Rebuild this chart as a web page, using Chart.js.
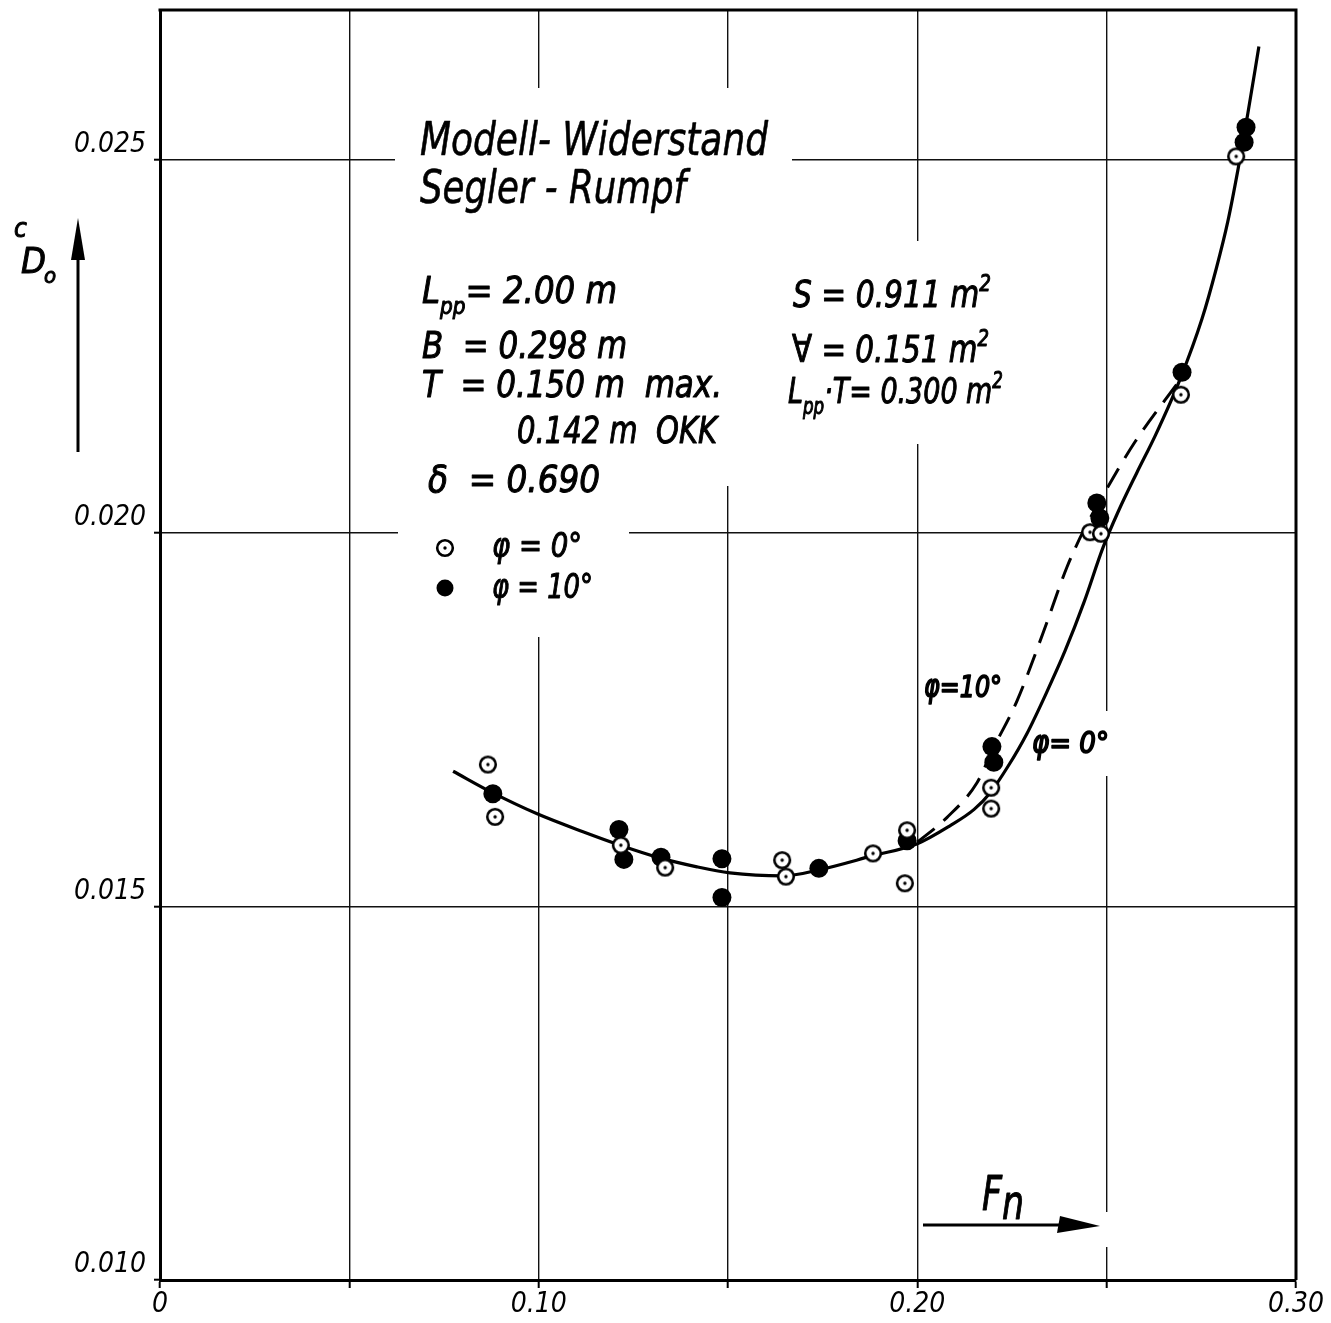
<!DOCTYPE html>
<html>
<head>
<meta charset="utf-8">
<script src="https://cdn.jsdelivr.net/npm/chart.js@4.4.1/dist/chart.umd.min.js"></script>
<style>
html,body{margin:0;padding:0;background:#fff;}
#wrap{width:1331px;height:1323px;}
</style>
</head>
<body>
<div id="wrap"><canvas id="c" width="1331" height="1323"></canvas></div>
<script>
// ---------------- DATA ----------------
const xTickValues = [0, 0.10, 0.20, 0.30];
const xTickLabels = ['0', '0.10', '0.20', '0.30'];
const yTickValues = [0.010, 0.015, 0.020, 0.025];
const yTickLabels = ['0.010', '0.015', '0.020', '0.025'];

// measured points, phi = 0 deg (open circles)
const fnOpen = [0.0866, 0.0885, 0.1217, 0.1334, 0.1643, 0.1653, 0.1883, 0.1973, 0.1967, 0.2195, 0.2195, 0.2456, 0.2485, 0.2696, 0.2842];
const cdOpen = [0.01690, 0.01620, 0.01582, 0.01552, 0.01562, 0.01540, 0.01571, 0.01602, 0.01531, 0.01659, 0.01631, 0.02001, 0.01999, 0.02185, 0.02504];

// measured points, phi = 10 deg (filled circles)
const fnFilled = [0.0879, 0.1212, 0.1225, 0.1323, 0.1484, 0.1484, 0.1740, 0.1973, 0.2197, 0.2202, 0.2474, 0.2482, 0.2699, 0.2868, 0.2863];
const cdFilled = [0.01651, 0.01603, 0.01563, 0.01566, 0.01564, 0.01512, 0.01551, 0.01588, 0.01714, 0.01693, 0.02040, 0.02020, 0.02215, 0.02543, 0.02523];

// faired curve phi = 0 deg (solid, also common branch at low Fn)
const fnCurve0 = [0.0774, 0.0879, 0.0996, 0.1117, 0.1215, 0.1320, 0.1418, 0.1505, 0.1645, 0.1740, 0.1883, 0.2000, 0.2086, 0.2150, 0.2192, 0.2240, 0.2290, 0.2340, 0.2390, 0.2440, 0.2490, 0.2530, 0.2580, 0.2628, 0.2694, 0.2752, 0.2789, 0.2820, 0.2847, 0.2873, 0.2902];
const cdCurve0 = [0.01681, 0.01652, 0.01624, 0.01600, 0.01582, 0.01565, 0.01553, 0.01545, 0.01541, 0.01549, 0.01568, 0.01584, 0.01608, 0.01630, 0.01652, 0.01688, 0.01732, 0.01785, 0.01842, 0.01907, 0.01980, 0.02028, 0.02081, 0.02130, 0.02206, 0.02287, 0.02353, 0.02417, 0.02487, 0.02562, 0.02651];

// faired curve phi = 10 deg (dashed)
const fnCurve10 = [0.2000, 0.2078, 0.2158, 0.2200, 0.2263, 0.2332, 0.2395, 0.2440, 0.2490, 0.2575, 0.2694];
const cdCurve10 = [0.01586, 0.01619, 0.01666, 0.01711, 0.01775, 0.01866, 0.01954, 0.02004, 0.02050, 0.02122, 0.02205];

// ---------------- LAYOUT / STYLE ----------------
const FONT = '"DejaVu Sans Condensed","DejaVu Sans",sans-serif';
const toXY = (xs, ys) => xs.map((v, i) => ({x: v, y: ys[i]}));

function openMarker(r) {
  const s = Math.ceil(r * 2 + 4);
  const cv = document.createElement('canvas');
  cv.width = s; cv.height = s;
  const g = cv.getContext('2d');
  g.beginPath(); g.arc(s / 2, s / 2, r, 0, Math.PI * 2);
  g.fillStyle = '#fff'; g.fill();
  g.lineWidth = 2.6; g.strokeStyle = '#000'; g.stroke();
  g.beginPath(); g.arc(s / 2, s / 2, 1.7, 0, Math.PI * 2);
  g.fillStyle = '#000'; g.fill();
  return cv;
}
const openImg = openMarker(7.8);

function drawRuns(ctx, x, y, size, width, runs, stroke) {
  const f = s => `italic ${s}px ${FONT}`;
  let total = 0; const meas = [];
  for (const [t, k] of runs) {
    const s = (k === 'sub' || k === 'sup') ? size * 0.62 : size;
    ctx.font = f(s);
    const w = ctx.measureText(t).width;
    meas.push([t, k, s, w]); total += w;
  }
  const sx = width ? width / total : 1;
  ctx.save();
  ctx.translate(x, y); ctx.scale(sx, 1);
  ctx.fillStyle = '#000'; ctx.strokeStyle = '#000';
  ctx.lineWidth = stroke === undefined ? 1.0 : stroke; ctx.lineJoin = 'round';
  ctx.textBaseline = 'alphabetic'; ctx.textAlign = 'left';
  let cx = 0;
  for (const [t, k, s, w] of meas) {
    ctx.font = f(s);
    const dy = k === 'sub' ? size * 0.3 : (k === 'sup' ? -size * 0.42 : (k === 'low' ? size * 0.18 : 0));
    ctx.fillText(t, cx, dy);
    if (ctx.lineWidth > 0) ctx.strokeText(t, cx, dy);
    cx += w;
  }
  ctx.restore();
}

const texts = [
  {x: 420, y: 155, s: 46, w: 348, r: [['Modell- Widerstand']], k: 0.6},
  {x: 420, y: 203, s: 46, w: 266, r: [['Segler - Rumpf']], k: 0.6},
  {x: 422, y: 303, s: 38, w: 195, r: [['L'], ['pp', 'sub'], ['= 2.00 m']]},
  {x: 422, y: 358, s: 38, w: 205, r: [['B  = 0.298 m']]},
  {x: 422, y: 397, s: 38, w: 300, r: [['T  = 0.150 m  max.']]},
  {x: 517, y: 443, s: 38, w: 200, r: [['0.142 m  OKK']]},
  {x: 428, y: 492, s: 38, w: 172, r: [['\u03B4  = 0.690']]},
  {x: 492, y: 557, s: 34, w: 90, r: [['\u03C6 = 0\u00B0']]},
  {x: 492, y: 598, s: 34, w: 101, r: [['\u03C6 = 10\u00B0']]},
  {x: 793, y: 307, s: 38, w: 198, r: [['S = 0.911 m'], ['2', 'sup']]},
  {x: 792, y: 362, s: 38, w: 197, r: [['\u2200 = 0.151 m'], ['2', 'sup']]},
  {x: 788, y: 403, s: 36, w: 215, r: [['L'], ['pp', 'sub'], ['\u00B7T= 0.300 m'], ['2', 'sup']]},
  {x: 924, y: 697, s: 31, w: 78, r: [['\u03C6=10\u00B0']], k: 1.6},
  {x: 1032, y: 753, s: 31, w: 77, r: [['\u03C6= 0\u00B0']], k: 1.6},
  {x: 982, y: 1210, s: 48, w: 42, r: [['F'], ['n', 'low']]},
  {x: 14, y: 237, s: 26, w: 0, r: [['c']]},
  {x: 21, y: 273, s: 36, w: 0, r: [['D']]},
  {x: 44, y: 283, s: 22, w: 0, r: [['o']]}
];

// gaps in the grid left where the lettering was put (axis value, pixel extent)
const gaps = [
  {axis: 'y', v: 0.025, a: 395, b: 792},
  {axis: 'y', v: 0.020, a: 398, b: 629},
  {axis: 'x', v: 0.10, a: 88, b: 637},
  {axis: 'x', v: 0.15, a: 88, b: 486},
  {axis: 'x', v: 0.20, a: 241, b: 444},
  {axis: 'x', v: 0.25, a: 711, b: 776},
  {axis: 'x', v: 0.25, a: 1212, b: 1247}
];

const decor = {
  id: 'decor',
  beforeDatasetsDraw(chart) {
    const {ctx, chartArea: ca, scales} = chart;
    ctx.save();
    ctx.fillStyle = '#fff';
    for (const g of gaps) {
      if (g.axis === 'y') {
        const py = scales.y.getPixelForValue(g.v);
        ctx.fillRect(g.a, py - 3, g.b - g.a, 6);
      } else {
        const px = scales.x.getPixelForValue(g.v);
        ctx.fillRect(px - 3, g.a, 6, g.b - g.a);
      }
    }
    // top and right frame
    ctx.strokeStyle = '#000'; ctx.lineWidth = 3;
    ctx.beginPath();
    ctx.moveTo(ca.left - 1.5, ca.top); ctx.lineTo(ca.right, ca.top); ctx.lineTo(ca.right, ca.bottom);
    ctx.stroke();
    ctx.restore();
  },
  afterDraw(chart) {
    const {ctx} = chart;
    ctx.save();
    for (const t of texts) drawRuns(ctx, t.x, t.y, t.s, t.w, t.r, t.k);
    // legend symbols
    ctx.drawImage(openImg, 445 - openImg.width / 2, 548 - openImg.height / 2);
    ctx.beginPath(); ctx.arc(445, 588, 8.5, 0, Math.PI * 2); ctx.fillStyle = '#000'; ctx.fill();
    // y arrow
    ctx.strokeStyle = '#000'; ctx.lineWidth = 3;
    ctx.beginPath(); ctx.moveTo(78, 452); ctx.lineTo(78, 250); ctx.stroke();
    ctx.beginPath(); ctx.moveTo(78, 218); ctx.lineTo(85, 260); ctx.lineTo(71, 260); ctx.closePath(); ctx.fill();
    // x arrow (Fn)
    ctx.beginPath(); ctx.moveTo(923, 1225); ctx.lineTo(1062, 1225); ctx.stroke();
    ctx.beginPath(); ctx.moveTo(1100, 1226); ctx.lineTo(1057, 1233); ctx.lineTo(1060, 1216); ctx.closePath(); ctx.fill();
    ctx.restore();
  }
};

const tickFont = {family: FONT, size: 28, style: 'italic', weight: 'normal'};

new Chart(document.getElementById('c'), {
  type: 'scatter',
  data: {
    datasets: [
      {label: 'phi=0 measured', data: toXY(fnOpen, cdOpen), pointStyle: openImg, pointRadius: 8, order: 0},
      {label: 'phi=10 measured', data: toXY(fnFilled, cdFilled), pointStyle: 'circle', pointRadius: 9.5,
        backgroundColor: '#000', borderColor: '#000', borderWidth: 0, order: 1},
      {label: 'phi=10 curve', data: toXY(fnCurve10, cdCurve10), showLine: true, pointRadius: 0,
        borderColor: '#000', borderWidth: 3, borderDash: [22, 12], cubicInterpolationMode: 'monotone', order: 2},
      {label: 'phi=0 curve', data: toXY(fnCurve0, cdCurve0), showLine: true, pointRadius: 0,
        borderColor: '#000', borderWidth: 3.2, cubicInterpolationMode: 'monotone', order: 3}
    ]
  },
  options: {
    responsive: false,
    animation: false,
    devicePixelRatio: 1,
    layout: {padding: {left: 0, right: 35, top: 10, bottom: 0}},
    plugins: {legend: {display: false}, tooltip: {enabled: false}},
    scales: {
      x: {
        type: 'linear', min: 0, max: 0.30,
        ticks: {
          stepSize: 0.05, includeBounds: false, autoSkip: false, maxRotation: 0, padding: 0,
          color: '#000', font: tickFont,
          callback: (v) => { const i = xTickValues.findIndex(t => Math.abs(t - v) < 1e-9); return i >= 0 ? xTickLabels[i] : ''; }
        },
        grid: {color: '#111', lineWidth: 1.4, tickLength: 8, tickColor: '#000', tickWidth: 2},
        border: {color: '#000', width: 3},
        afterFit: (s) => { s.height = 43; s.paddingLeft = 0; s.paddingRight = 0; }
      },
      y: {
        type: 'linear', min: 0.010, max: 0.027,
        ticks: {
          stepSize: 0.005, includeBounds: false, autoSkip: false, padding: 8, labelOffset: -15,
          color: '#000', font: tickFont,
          callback: (v) => { const i = yTickValues.findIndex(t => Math.abs(t - v) < 1e-9); return i >= 0 ? yTickLabels[i] : ''; }
        },
        grid: {color: '#111', lineWidth: 1.4, tickLength: 6, tickColor: '#000', tickWidth: 2},
        border: {color: '#000', width: 3},
        afterFit: (s) => { s.width = 160; s.paddingTop = 0; s.paddingBottom = 0; }
      }
    }
  },
  plugins: [decor]
});
</script>
</body>
</html>
